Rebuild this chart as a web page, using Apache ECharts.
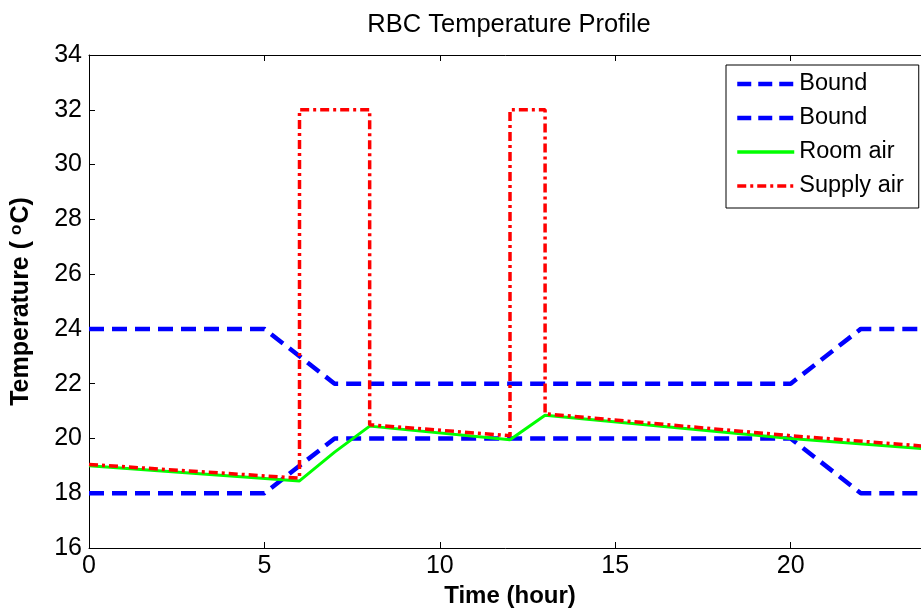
<!DOCTYPE html>
<html><head><meta charset="utf-8">
<script src="https://cdn.jsdelivr.net/npm/echarts@6/dist/echarts.min.js"></script>
<style>html,body{margin:0;padding:0;background:#fff}#c{width:921px;height:609px}</style>
</head><body><div id="c"></div>
<script>
var xTicks = [0, 5, 10, 15, 20];
var yTicks = [16, 18, 20, 22, 24, 26, 28, 30, 32, 34];
var boundTime = [0, 5, 7, 20, 22, 24];
var boundUpper = [24, 24, 22, 22, 24, 24];
var boundLower = [18, 18, 20, 20, 18, 18];
var roomTime = [0, 6, 7, 8, 12, 13, 20, 24];
var roomAir = [19.0, 18.45, 19.5, 20.45, 19.95, 20.85, 20.0, 19.6];
var supplyTime = [0, 6, 6, 8, 8, 12, 12, 13, 13, 20, 24];
var supplyAir = [19.05, 18.55, 32, 32, 20.5, 20.1, 32, 32, 20.9, 20.1, 19.7];

function pairs(xs, ys) { return xs.map(function (x, i) { return [x, ys[i]]; }); }

var font = 'Liberation Sans, Arial, sans-serif';
var chart = echarts.init(document.getElementById('c'));
chart.setOption({
  animation: false,
  backgroundColor: '#fff',
  title: {
    text: 'RBC Temperature Profile', left: 504, top: 7, textAlign: 'center',
    textStyle: { fontFamily: font, fontSize: 25.5, fontWeight: 'normal', color: '#000' }
  },
  grid: { left: 89, top: 55, width: 842, bottom: 61, containLabel: false, outerBoundsMode: 'none' },
  legend: {
    left: 726, top: 65, orient: 'vertical',
    backgroundColor: '#fff', borderColor: '#000', borderWidth: 1,
    padding: [7, 15, 10, 9], itemGap: 10, itemWidth: 57, itemHeight: 22,
    itemStyle: { color: 'rgba(0,0,0,0)', borderColor: 'rgba(0,0,0,0)', borderWidth: 0, opacity: 0 },
    textStyle: { fontFamily: font, fontSize: 23.5, lineHeight: 22, color: '#000', padding: [0, 0, 0, 0] },
    data: [
      { name: 'Bound', lineStyle: { width: 4.5, type: [14, 7] } },
      { name: 'Bound ', lineStyle: { width: 4.5, type: [14, 7] } },
      { name: 'Room air', lineStyle: { width: 3.5 } },
      { name: 'Supply air', lineStyle: { width: 3.5, type: [9, 4, 3, 4] } }
    ]
  },
  xAxis: [{
    type: 'value', min: 0, max: 24, interval: 5,
    name: 'Time (hour)', nameLocation: 'middle', nameGap: 29,
    nameTextStyle: { fontFamily: font, fontSize: 24, fontWeight: 'bold', color: '#000' },
    axisLine: { show: true, onZero: false, lineStyle: { color: '#000', width: 1 } },
    axisTick: { show: true, inside: true, length: 6, lineStyle: { color: '#000' } },
    axisLabel: { fontFamily: font, fontSize: 25, color: '#000', margin: 6,
      formatter: function (v) { return xTicks.indexOf(v) >= 0 ? String(v) : ''; } },
    splitLine: { show: false }
  }, {
    type: 'value', min: 0, max: 24, interval: 5, position: 'top',
    axisLine: { show: true, onZero: false, lineStyle: { color: '#000', width: 1 } },
    axisTick: { show: true, inside: true, length: 6, lineStyle: { color: '#000' } },
    axisLabel: { show: false }, splitLine: { show: false }
  }],
  yAxis: [{
    type: 'value', min: 16, max: 34, interval: 2,
    name: '{b|Temperature (}{s|o}{b|C)}', nameLocation: 'middle', nameGap: 54,
    nameTextStyle: { fontFamily: font, fontSize: 25, fontWeight: 'bold', color: '#000',
      rich: {
        b: { fontFamily: font, fontSize: 25, fontWeight: 'bold', color: '#000' },
        s: { fontFamily: font, fontSize: 17, fontWeight: 'bold', color: '#000', verticalAlign: 'top', padding: [0, 1, 10, 6] }
      } },
    axisLine: { show: true, onZero: false, lineStyle: { color: '#000', width: 1 } },
    axisTick: { show: true, inside: true, length: 6, lineStyle: { color: '#000' } },
    axisLabel: { fontFamily: font, fontSize: 25, color: '#000', margin: 7,
      formatter: function (v) { return yTicks.indexOf(v) >= 0 ? String(v) : ''; } },
    splitLine: { show: false }
  }, {
    type: 'value', min: 16, max: 34, interval: 2, position: 'right',
    axisLine: { show: true, onZero: false, lineStyle: { color: '#000', width: 1 } },
    axisTick: { show: true, inside: true, length: 6, lineStyle: { color: '#000' } },
    axisLabel: { show: false }, splitLine: { show: false }
  }],
  series: [{
    name: 'Bound', type: 'line', data: pairs(boundTime, boundUpper), symbol: 'none',
    color: '#0000ff', lineStyle: { color: '#0000ff', width: 4.5, type: [15, 8] }, z: 2
  }, {
    name: 'Bound ', type: 'line', data: pairs(boundTime, boundLower), symbol: 'none',
    color: '#0000ff', lineStyle: { color: '#0000ff', width: 4.5, type: [15, 8] }, z: 2
  }, {
    name: 'Room air', type: 'line', data: pairs(roomTime, roomAir), symbol: 'none',
    color: '#00ff00', lineStyle: { color: '#00ff00', width: 3 }, z: 3
  }, {
    name: 'Supply air', type: 'line', data: pairs(supplyTime, supplyAir), symbol: 'none',
    color: '#ff0000', lineStyle: { color: '#ff0000', width: 3.5, type: [9, 4, 3, 4] }, z: 4
  }]
});
</script></body></html>
